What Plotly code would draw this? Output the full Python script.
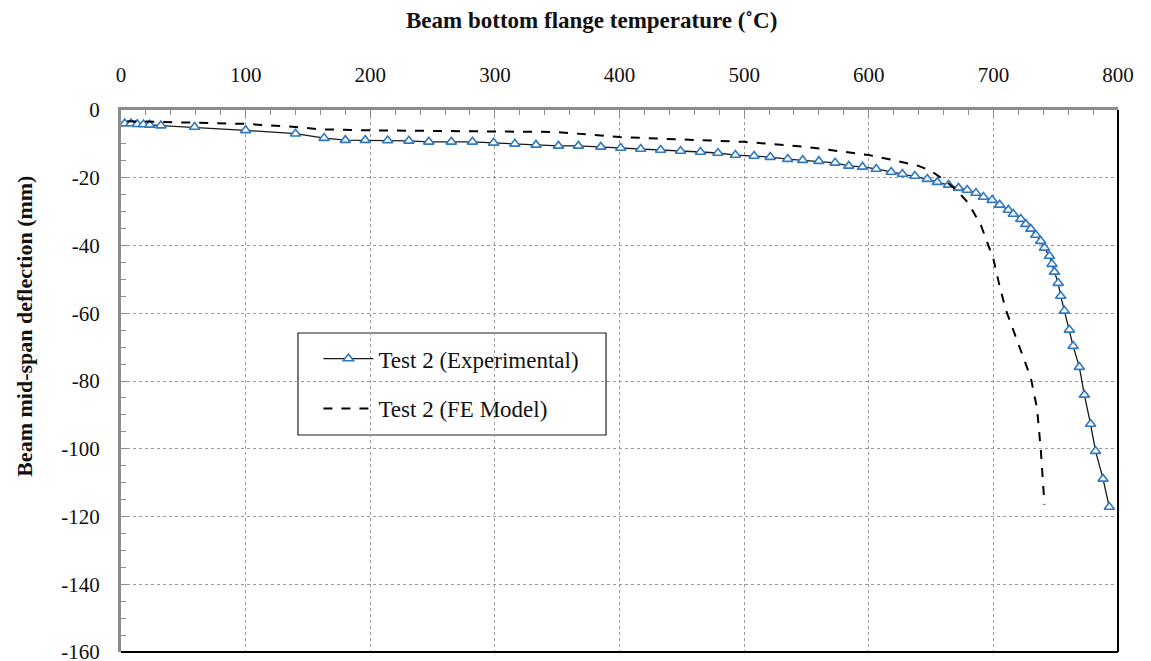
import plotly.graph_objects as go

# Experimental data: beam bottom flange temperature (°C) vs mid-span deflection (mm)
exp_temp = [3, 8, 13, 18, 23, 32, 59, 100, 140, 163, 180, 196, 214, 231, 247, 265, 282, 299,
            316, 333, 351, 367, 385, 401, 417, 433, 449, 465, 479, 493, 508, 521, 535, 547,
            560, 573, 584, 595, 606, 618, 627, 637, 647, 655, 664, 672, 679, 686, 692, 699,
            705, 712, 716, 722, 726, 730, 734, 738, 741, 745, 747, 749, 752, 754, 757, 761,
            764, 769, 773, 778, 782, 788, 793]
exp_defl = [-4.0, -4.0, -4.2, -4.3, -4.4, -4.6, -5.0, -6.0, -7.0, -8.3, -8.9, -8.9, -9.0, -9.1,
            -9.4, -9.4, -9.4, -9.7, -10.0, -10.3, -10.6, -10.6, -10.9, -11.2, -11.5, -11.8,
            -12.1, -12.4, -12.7, -13.3, -13.6, -13.9, -14.5, -14.8, -15.1, -15.6, -16.5, -16.8,
            -17.4, -18.3, -18.9, -19.5, -20.4, -21.3, -22.1, -23.0, -23.6, -24.5, -25.7, -26.6,
            -28.0, -29.5, -30.7, -32.2, -33.7, -35.1, -36.9, -38.7, -40.7, -43.1, -45.5, -47.8,
            -51.1, -54.9, -59.3, -64.9, -69.7, -75.9, -84.1, -92.7, -100.7, -108.9, -117.2]

# FE model
fe_temp = [5, 20, 60, 100, 140, 160, 200, 250, 300, 350, 400, 450, 500, 550, 600, 620, 640,
           650, 660, 670, 680, 690, 700, 705, 710, 720, 730, 735, 738, 741]
fe_defl = [-3.3, -3.4, -3.7, -4.1, -5.0, -5.7, -6.0, -6.1, -6.2, -6.5, -8.0, -8.7, -9.4,
           -10.9, -13.3, -14.8, -16.5, -18.0, -20.5, -23.5, -27.5, -34.0, -44.0, -52.0, -59.0,
           -69.0, -79.0, -88.0, -100.0, -116.5]

x_ticks = [0, 100, 200, 300, 400, 500, 600, 700, 800]
y_ticks = [0, -20, -40, -60, -80, -100, -120, -140, -160]

SERIF = "Liberation Serif"

fig = go.Figure()
fig.add_trace(go.Scatter(
    x=exp_temp, y=exp_defl, mode="lines+markers", name="Test 2 (Experimental)",
    line=dict(color="#1a1a1a", width=1.3),
    marker=dict(symbol="triangle-up", size=9, color="white",
                line=dict(color="#2f78c4", width=1.6)),
    legendgroup="a",
))
fig.add_trace(go.Scatter(
    x=fe_temp, y=fe_defl, mode="lines", name="Test 2 (FE Model)",
    line=dict(color="black", width=2, dash="dash"),
    legendgroup="b",
))

fig.update_layout(
    width=1151, height=661,
    margin=dict(l=113, r=41, t=102, b=17),
    paper_bgcolor="white", plot_bgcolor="white",
    font=dict(family=SERIF, color="#111", size=20),
    showlegend=True,
    legend=dict(
        x=0.198, y=0.581, xanchor="left", yanchor="top",
        bgcolor="rgba(0,0,0,0)", borderwidth=0,
        font=dict(family=SERIF, size=23, color="#111"),
        tracegroupgap=17, traceorder="grouped",
        itemwidth=50,
    ),
    xaxis=dict(
        side="top", range=[0, 800], tickvals=x_ticks, ticktext=[str(v) for v in x_ticks],
        showgrid=True, gridcolor="#9a9a9a", griddash="dot", gridwidth=1,
        showline=True, linecolor="#8c8c8c", linewidth=3,
        ticks="inside", ticklen=6, tickcolor="#8c8c8c", tickwidth=1,
        minor=dict(dtick=20, ticks="inside", ticklen=5, tickcolor="#8c8c8c", showgrid=False),
        ticklabelstandoff=17, zeroline=False, automargin=False,
        tickfont=dict(family=SERIF, size=21, color="#111"),
    ),
    yaxis=dict(
        range=[-160, 0], tickvals=y_ticks, ticktext=[str(v) for v in y_ticks],
        showgrid=True, gridcolor="#9a9a9a", griddash="dot", gridwidth=1,
        showline=True, linecolor="#8c8c8c", linewidth=3,
        ticks="inside", ticklen=6, tickcolor="#8c8c8c", tickwidth=1,
        minor=dict(dtick=5, ticks="inside", ticklen=5, tickcolor="#8c8c8c", showgrid=False),
        ticklabelstandoff=14, zeroline=False, automargin=False,
        tickfont=dict(family=SERIF, size=21, color="#111"),
    ),
    shapes=[
        dict(type="line", xref="paper", yref="paper", x0=1, x1=1, y0=0, y1=1,
             line=dict(color="black", width=2)),
        dict(type="line", xref="paper", yref="paper", x0=0, x1=1, y0=0, y1=0,
             line=dict(color="black", width=2)),
        dict(type="rect", xref="paper", yref="paper", x0=0.1775, x1=0.4865,
             y0=0.4004, y1=0.5886, layer="below", fillcolor="white",
             line=dict(color="#222", width=1.2)),
    ],
    annotations=[
        dict(text="<b>Beam bottom flange temperature (˚C)</b>", xref="paper", yref="paper",
             x=0.472, y=1, yshift=90, xanchor="center", yanchor="middle", showarrow=False,
             font=dict(family=SERIF, size=23, color="#111")),
        dict(text="<b>Beam mid-span deflection (mm)</b>", xref="paper", yref="paper",
             x=0, xshift=-96, y=0.6, xanchor="center", yanchor="middle", textangle=-90,
             showarrow=False, font=dict(family=SERIF, size=22, color="#111")),
    ],
)

fig.write_html("out.html")
